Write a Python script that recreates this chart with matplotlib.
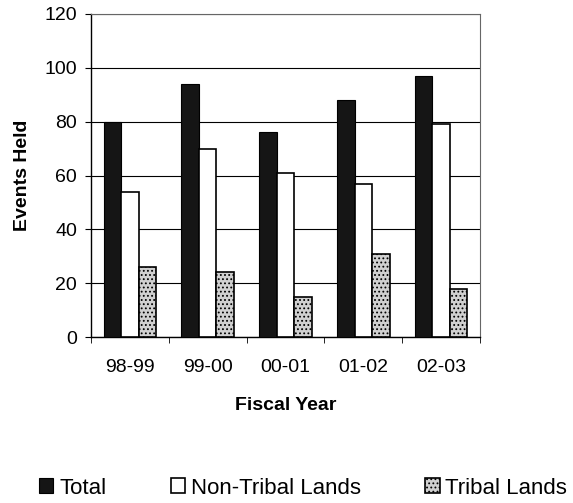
import matplotlib
matplotlib.use("Agg")
import matplotlib.pyplot as plt
import numpy as np

plt.rcParams["font.family"] = ["Liberation Sans", "DejaVu Sans"]
plt.rcParams["hatch.color"] = "#555555"
plt.rcParams["hatch.linewidth"] = 0.8

years = ["98-99", "99-00", "00-01", "01-02", "02-03"]
total = [80, 94, 76, 88, 97]
non_tribal = [54, 70, 61, 57, 79]
tribal = [26, 24, 15, 31, 18]

fig = plt.figure(figsize=(5.73, 5.03), dpi=100)
# plot area in pixels: x 91..480, y 14..337 (of 573x503)
ax = fig.add_axes([91 / 573, 1 - 337 / 503, (480 - 91) / 573, (337 - 14) / 503])

x = np.arange(len(years))
w = 0.225
ax.bar(x - w, total, w, color="#151515", edgecolor="black", linewidth=0.8,
       label="Total", zorder=3)
ax.bar(x, non_tribal, w, color="white", edgecolor="black", linewidth=1.2,
       label="Non-Tribal Lands", zorder=3)
ax.bar(x + w, tribal, w, color="#d0d0d0", edgecolor="black", linewidth=1.2,
       hatch="....", label="Tribal Lands", zorder=3)

ax.set_xlim(-0.5, len(years) - 0.5)
ax.set_ylim(0, 120)
ax.set_yticks(range(0, 121, 20))
ax.yaxis.grid(True, color="black", linewidth=0.8, zorder=0)
ax.set_xticks(x)
ax.set_xticklabels(years)
ax.set_xticks(np.arange(-0.5, len(years)), minor=True)
ax.tick_params(axis="x", which="major", length=0, pad=16, labelsize=14)
ax.tick_params(axis="x", which="minor", length=4, color="black")
ax.tick_params(axis="y", length=4, labelsize=14, pad=6)

for side in ["top", "right"]:
    ax.spines[side].set_color("#666666")
    ax.spines[side].set_linewidth(0.8)
for side in ["left", "bottom"]:
    ax.spines[side].set_color("black")
    ax.spines[side].set_linewidth(1.0)

ax.set_ylabel("Events Held", fontsize=14, fontweight="bold", labelpad=10)
ax.set_xlabel("Fiscal Year", fontsize=14, fontweight="bold", labelpad=15)

fig.legend(loc="center", bbox_to_anchor=(303 / 573, 1 - 488 / 503), ncol=3,
           frameon=False, fontsize=16, handlelength=0.65, handleheight=0.65,
           handletextpad=0.25, columnspacing=2.9, borderpad=0)

fig.savefig("out.png", dpi=100)
